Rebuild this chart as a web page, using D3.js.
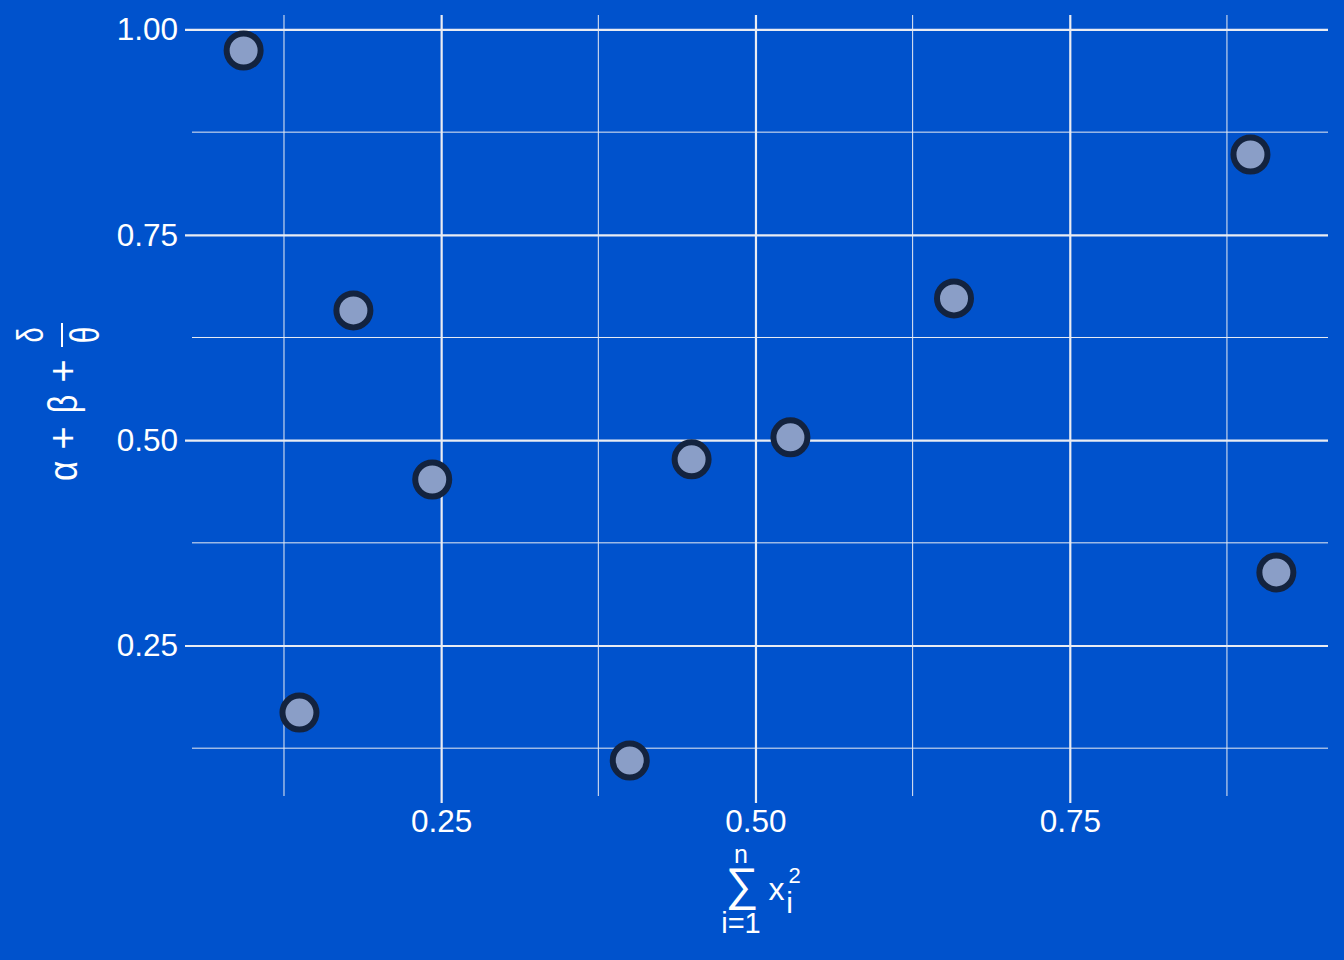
<!DOCTYPE html>
<html>
<head>
<meta charset="utf-8">
<script src="https://cdn.jsdelivr.net/npm/d3@7"></script>
<style>
  html, body { margin: 0; padding: 0; background: #0052CC; }
  svg { display: block; }
  text { font-family: "Liberation Sans", Arial, sans-serif; fill: #ffffff; }
</style>
</head>
<body>
<svg id="chart" width="1344" height="960"></svg>
<script>
// ---- data ----
const xValues = [0.0929, 0.1373, 0.1802, 0.2429, 0.4000, 0.4492, 0.5278, 0.6579, 0.8937, 0.9143];
const yValues = [0.9744, 0.1683, 0.6579, 0.4521, 0.1100, 0.4767, 0.5035, 0.6726, 0.8478, 0.3390];
const xMajorTicks = [0.25, 0.50, 0.75];
const xMinorTicks = [0.125, 0.375, 0.625, 0.875];
const yMajorTicks = [0.25, 0.50, 0.75, 1.00];
const yMinorTicks = [0.125, 0.375, 0.625, 0.875];

const W = 1344, H = 960;
const panel = { left: 192, right: 1328, top: 15, bottom: 796 };

const svg = d3.select("#chart");
svg.append("rect").attr("width", W).attr("height", H).attr("fill", "#0052CC");

function expand(vals) {
  const [a, b] = d3.extent(vals);
  const p = (b - a) * 0.05;
  return [a - p, b + p];
}
const x = d3.scaleLinear().domain(expand(xValues)).range([panel.left, panel.right]);
const y = d3.scaleLinear().domain(expand(yValues)).range([panel.bottom, panel.top]);

const gridColor = "#e9ecf3";
const g = svg.append("g");

// minor grid
g.selectAll("line.xminor").data(xMinorTicks.filter(t => t >= x.domain()[0] && t <= x.domain()[1]))
  .join("line").attr("x1", d => x(d)).attr("x2", d => x(d))
  .attr("y1", panel.top).attr("y2", panel.bottom)
  .attr("stroke", gridColor).attr("stroke-width", 1);
g.selectAll("line.yminor").data(yMinorTicks.filter(t => t >= y.domain()[0] && t <= y.domain()[1]))
  .join("line").attr("y1", d => y(d)).attr("y2", d => y(d))
  .attr("x1", panel.left).attr("x2", panel.right)
  .attr("stroke", gridColor).attr("stroke-width", 1);

// major grid + ticks via axes
const tickFont = 31.5;
const xAxis = d3.axisBottom(x).tickValues(xMajorTicks).tickFormat(d3.format(".2f"))
  .tickSizeInner(-(panel.bottom - panel.top) - 7).tickSizeOuter(0).tickPadding(7);
const xg = svg.append("g").attr("transform", `translate(0,${panel.bottom + 7})`).call(xAxis);
xg.select(".domain").remove();
xg.selectAll(".tick line").attr("stroke", gridColor).attr("stroke-width", 2.2);
xg.selectAll(".tick text").attr("font-size", tickFont).attr("fill", "#ffffff")
  .style("font-family", "'Liberation Sans', Arial, sans-serif");

const yAxis = d3.axisLeft(y).tickValues(yMajorTicks).tickFormat(d3.format(".2f"))
  .tickSizeInner(-(panel.right - panel.left) - 7).tickSizeOuter(0).tickPadding(7);
const yg = svg.append("g").attr("transform", `translate(${panel.left - 7},0)`).call(yAxis);
yg.select(".domain").remove();
yg.selectAll(".tick line").attr("stroke", gridColor).attr("stroke-width", 2.2);
yg.selectAll(".tick text").attr("font-size", tickFont).attr("fill", "#ffffff")
  .attr("dy", "0.33em")
  .style("font-family", "'Liberation Sans', Arial, sans-serif");

// points
const pts = xValues.map((v, i) => ({ x: v, y: yValues[i] }));
svg.append("g").selectAll("circle").data(pts).join("circle")
  .attr("cx", d => x(d.x)).attr("cy", d => y(d.y)).attr("r", 17)
  .attr("fill", "#8a9ec7").attr("stroke", "#13233f").attr("stroke-width", 6);

// ---- x axis title: sum_{i=1}^{n} x_i^2 ----
const xt = svg.append("g");
xt.append("text").attr("x", 741).attr("y", 863).attr("text-anchor", "middle").attr("font-size", 25).text("n");
xt.append("text").attr("x", 742).attr("y", 900).attr("text-anchor", "middle").attr("font-size", 46).text("\u2211");
xt.append("text").attr("x", 741).attr("y", 933).attr("text-anchor", "middle").attr("font-size", 29).text("i=1");
xt.append("text").attr("x", 776.5).attr("y", 900).attr("text-anchor", "middle").attr("font-size", 32).text("x");
xt.append("text").attr("x", 794.5).attr("y", 883).attr("text-anchor", "middle").attr("font-size", 22).text("2");
xt.append("text").attr("x", 789.5).attr("y", 913).attr("text-anchor", "middle").attr("font-size", 30).text("i");

// ---- y axis title: alpha + beta + delta/theta (rotated) ----
const yt = svg.append("g");
function rotGlyph(cx, cy, txt, size, sx) {
  yt.append("text")
    .attr("transform", `translate(${cx},${cy}) rotate(-90) scale(${sx},1)`)
    .attr("text-anchor", "middle").attr("dy", "0.35em")
    .attr("font-size", size).text(txt);
}
rotGlyph(63, 471, "\u03B1", 41, 0.85);
rotGlyph(63, 438, "+", 40, 1);
rotGlyph(63, 404, "\u03B2", 40, 0.8);
rotGlyph(63, 371, "+", 40, 1);
rotGlyph(30, 335, "\u03B4", 36, 0.75);
rotGlyph(85, 335, "\u03B8", 40, 0.75);
yt.append("line").attr("x1", 62).attr("x2", 62).attr("y1", 323).attr("y2", 347)
  .attr("stroke", "#ffffff").attr("stroke-width", 2);
</script>
</body>
</html>
